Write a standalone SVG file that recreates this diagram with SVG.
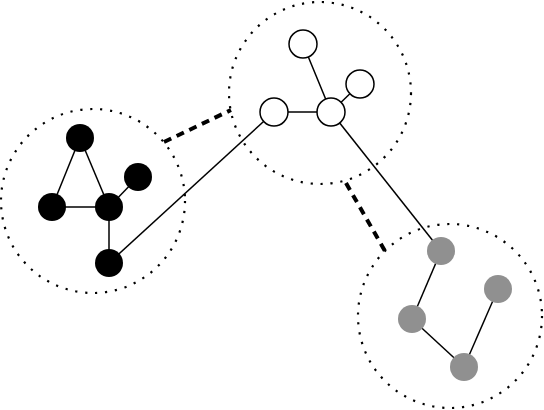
<svg xmlns="http://www.w3.org/2000/svg" width="544" height="410" viewBox="0 0 544 410">
<style>
.cl{fill:none;stroke:#000;stroke-width:2.2;stroke-dasharray:2.2 7.8}
.e{stroke:#000;stroke-width:1.5;fill:none}
.d{stroke:#000;stroke-width:4;stroke-dasharray:8 6;fill:none}
.b{fill:#000}
.w{fill:#fff;stroke:#000;stroke-width:1.5}
.g{fill:#909090}
</style>
<rect width="544" height="410" fill="#fff"/>
<g id="clusters">
<circle class="cl" cx="93" cy="201" r="92"/>
<circle class="cl" cx="320" cy="93" r="91"/>
<circle class="cl" cx="450" cy="316" r="92"/>
</g>
<g id="connectors">
<line class="e" x1="80" y1="138" x2="52" y2="207"/>
<line class="e" x1="80" y1="138" x2="109" y2="207"/>
<line class="e" x1="52" y1="207" x2="109" y2="207"/>
<line class="e" x1="109" y1="207" x2="138" y2="177"/>
<line class="e" x1="109" y1="207" x2="109" y2="263"/>
<line class="e" x1="109" y1="263" x2="274" y2="112"/>
<line class="e" x1="274" y1="112" x2="331" y2="112"/>
<line class="e" x1="331" y1="112" x2="303" y2="44"/>
<line class="e" x1="331" y1="112" x2="360" y2="84"/>
<line class="e" x1="331" y1="112" x2="441" y2="251"/>
<line class="e" x1="441" y1="251" x2="412" y2="319"/>
<line class="e" x1="412" y1="319" x2="464" y2="367"/>
<line class="e" x1="464" y1="367" x2="498" y2="289"/>
<line class="d" x1="164" y1="142" x2="231" y2="110"/>
<line class="d" x1="346" y1="183" x2="385" y2="251"/>
</g>
<g id="n1"><circle class="b" cx="80" cy="138" r="14"/></g>
<g id="n2"><circle class="b" cx="52" cy="207" r="14"/></g>
<g id="n3"><circle class="b" cx="109" cy="207" r="14"/></g>
<g id="n4"><circle class="b" cx="138" cy="177" r="14"/></g>
<g id="n5"><circle class="b" cx="109" cy="263" r="14"/></g>
<g id="n6"><circle class="w" cx="303" cy="44" r="14"/></g>
<g id="n7"><circle class="w" cx="360" cy="84" r="14"/></g>
<g id="n8"><circle class="w" cx="274" cy="112" r="14"/></g>
<g id="n9"><circle class="w" cx="331" cy="112" r="14"/></g>
<g id="n10"><circle class="g" cx="441" cy="251" r="14"/></g>
<g id="n11"><circle class="g" cx="498" cy="289" r="14"/></g>
<g id="n12"><circle class="g" cx="412" cy="319" r="14"/></g>
<g id="n13"><circle class="g" cx="464" cy="367" r="14"/></g>
</svg>
